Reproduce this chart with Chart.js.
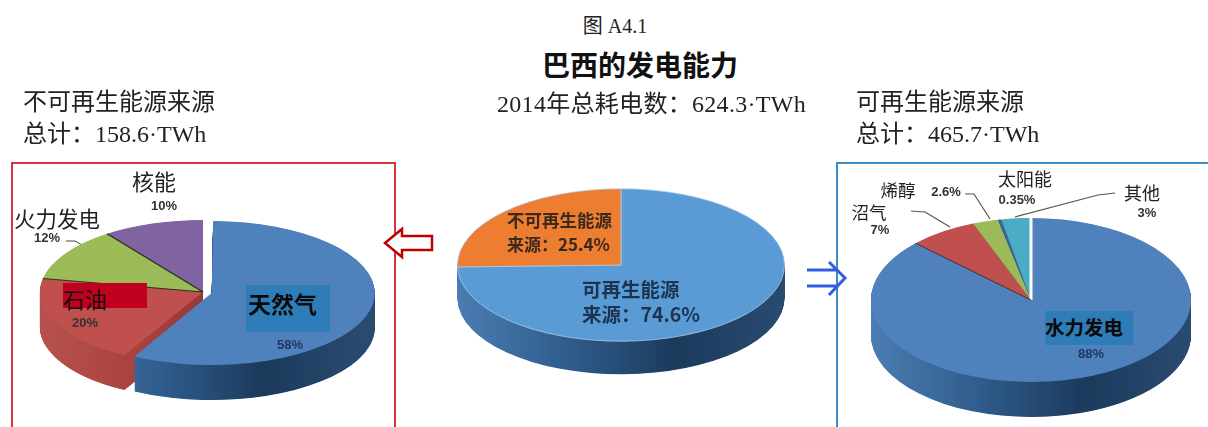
<!DOCTYPE html>
<html lang="zh">
<head>
<meta charset="utf-8">
<title>巴西的发电能力</title>
<script src="https://cdn.jsdelivr.net/npm/chart.js@4"></script>
<style>
    html, body { margin: 0; padding: 0; background: #fff; }
    body { position: relative; width: 1208px; height: 427px; overflow: hidden; font-family: "Liberation Serif", "Noto Sans CJK SC", serif; color: #222; filter: blur(0.4px); }
    canvas { position: absolute; }
    svg { position: absolute; left: 0; top: 0; }
    .t { position: absolute; white-space: nowrap; line-height: 1; transform: translate(-50%, -50%); }
    .l { position: absolute; white-space: nowrap; line-height: 1; transform: translateY(-50%); }
    .s { font-family: "Noto Sans CJK SC", sans-serif; }
    .pct { font-family: "Liberation Sans", "Noto Sans", sans-serif; font-weight: bold; font-size: 13px; color: #333; }
    .box { position: absolute; }
</style>
</head>
<body>
<svg width="1208" height="427">
    <path d="M12 427V163H395V427" fill="none" stroke="#d8343c" stroke-width="2"/>
    <path d="M837 427V163H1208" fill="none" stroke="#3a8cc4" stroke-width="2"/>
    <path d="M385 243L402 229V236H432V250H402V257Z" fill="#fff" stroke="#c00000" stroke-width="2.5"/>
    <path d="M807 270H836M807 286H836M829 262L845 278L829 295" fill="none" stroke="#2f5fe0" stroke-width="3"/>
    <path d="M66 241L75 241L82 245" fill="none" stroke="#444" stroke-width="1"/>
    <path d="M911 211L925 212L950 227" fill="none" stroke="#555" stroke-width="1.2"/>
    <path d="M965 194L974 194L990 219" fill="none" stroke="#555" stroke-width="1.2"/>
    <path d="M1115 193L1098 195L1015 217" fill="none" stroke="#555" stroke-width="1.2"/>
</svg>

<canvas id="pieFossil" width="362" height="362" style="left:22px;top:111px"></canvas>
<canvas id="pieTotal" width="328" height="328" style="left:457px;top:101px"></canvas>
<canvas id="pieRenew" width="320" height="320" style="left:871px;top:140px"></canvas>

<div class="t" style="left:615px;top:26px;font-size:20px">图 A4.1</div>
<div class="t s" style="left:640px;top:64px;font-size:28px;font-weight:bold;color:#111">巴西的发电能力</div>
<div class="l" style="left:23px;top:102px;font-size:24px">不可再生能源来源</div>
<div class="l" style="left:23px;top:134px;font-size:24px">总计&#xFF1A;158.6·TWh</div>
<div class="l" style="left:497px;top:104px;font-size:24px;letter-spacing:.3px">2014年总耗电数&#xFF1A;624.3·TWh</div>
<div class="l" style="left:856px;top:102px;font-size:24px">可再生能源来源</div>
<div class="l" style="left:856px;top:134px;font-size:24px">总计&#xFF1A;465.7·TWh</div>

<div class="t s" style="left:154px;top:180px;font-size:22px">核能</div>
<div class="t pct" style="left:164px;top:205px">10%</div>
<div class="t s" style="left:57px;top:218px;font-size:21.5px">火力发电</div>
<div class="t pct" style="left:47px;top:237px">12%</div>
<div class="box" style="left:63px;top:283px;width:84px;height:25px;background:#c0001f"></div>
<div class="l s" style="left:63px;top:298px;font-size:22px;color:#111">石油</div>
<div class="t pct" style="left:85px;top:322px">20%</div>
<div class="box" style="left:246px;top:285px;width:84px;height:47px;background:#2e7db8"></div>
<div class="l s" style="left:248px;top:303px;font-size:23px;font-weight:bold;color:#0a0a0a">天然气</div>
<div class="t pct" style="left:290px;top:344px;color:#1f3864">58%</div>

<div class="l s" style="left:507px;top:220px;font-size:17.5px;font-weight:bold;color:#3a2a1c">不可再生能源</div>
<div class="l s" style="left:507px;top:243px;font-size:17px;font-weight:bold;color:#3a2a1c">来源&#xFF1A;25.4%</div>
<div class="l s" style="left:582px;top:289px;font-size:19.5px;font-weight:bold;color:#1c3450">可再生能源</div>
<div class="l s" style="left:582px;top:314px;font-size:19.5px;font-weight:bold;color:#1c3450">来源&#xFF1A;74.6%</div>

<div class="box" style="left:1045px;top:311px;width:88px;height:34px;background:#2e7db8"></div>
<div class="l s" style="left:1045px;top:327px;font-size:19.5px;font-weight:bold;color:#0a0a0a">水力发电</div>
<div class="t pct" style="left:1091px;top:353px;color:#1f3864">88%</div>
<div class="t s" style="left:869px;top:212px;font-size:17.5px">沼气</div>
<div class="t pct" style="left:880px;top:229px">7%</div>
<div class="t s" style="left:898px;top:190px;font-size:17.5px">烯醇</div>
<div class="t pct" style="left:946px;top:191px">2.6%</div>
<div class="t s" style="left:1025px;top:178px;font-size:18px">太阳能</div>
<div class="t pct" style="left:1017px;top:199px">0.35%</div>
<div class="t s" style="left:1142px;top:192px;font-size:18px">其他</div>
<div class="t pct" style="left:1147px;top:212px">3%</div>

<script>
const fossilLabels = ['天然气', '石油', '火力发电', '核能'];
const fossilValues = [58, 20, 12, 10];

const totalLabels = ['可再生能源来源', '不可再生能源来源'];
const totalValues = [74.6, 25.4];

const renewLabels = ['水力发电', '沼气', '烯醇', '太阳能', '其他'];
const renewValues = [88, 7, 2.6, 0.35, 3];

// gradient stops for the side wall of each slice
const blueWall = ['#4a7db3', '#2f5d8c', '#1b3a5c', '#2a4b70'];
const redWall = ['#b5504c', '#a5403d', '#8c302e', '#8c302e'];
const plainWall = ['#6a6a6a', '#555', '#444', '#444'];

// squashes the flat pie into an ellipse and stacks copies of the arcs below it as the wall
const tiltPlugin = {
    id: 'tilt',
    afterDatasetUpdate(chart) {
        // arc.draw grows an exploded slice by its offset, take that back
        chart.getDatasetMeta(0).data.forEach(arc => {
            arc.outerRadius -= (arc.options.offset || 0) / 4;
        });
    },
    beforeDatasetDraw(chart, args, opts) {
        const ctx = chart.ctx;
        const arcs = chart.getDatasetMeta(0).data;
        const cx = arcs[0].x, cy = arcs[0].y, r = arcs[0].outerRadius;
        ctx.save();
        ctx.translate(cx, cy);
        ctx.scale(1, opts.squash);
        ctx.translate(-cx, -cy);

        for (let i = arcs.length - 1; i >= 0; i--) {
            const arc = arcs[i];
            const stops = opts.walls[i];
            const g = ctx.createLinearGradient(cx - r, 0, cx + r, 0);
            stops.forEach((c, n) => g.addColorStop(n / (stops.length - 1), c));
            const saved = arc.options;
            arc.options = Object.assign({}, saved, { backgroundColor: g, borderWidth: 0 });
            for (let d = opts.depth; d > 0; d -= 0.5) {
                ctx.save();
                ctx.translate(0, d / opts.squash);
                arc.draw(ctx);
                ctx.restore();
            }
            arc.options = saved;
        }
    },
    afterDatasetDraw(chart, args, opts) {
        const ctx = chart.ctx;
        const arcs = chart.getDatasetMeta(0).data;
        // the thin edges between slices
        (opts.dividers || []).forEach(dv => {
            const arc = arcs[dv.index];
            ctx.beginPath();
            ctx.moveTo(arc.x, arc.y);
            ctx.lineTo(arc.x + Math.cos(arc.startAngle) * arc.outerRadius, arc.y + Math.sin(arc.startAngle) * arc.outerRadius);
            ctx.strokeStyle = dv.color;
            ctx.lineWidth = dv.width;
            ctx.stroke();
        });
        ctx.restore();
    }
};

function makePie(id, labels, values, colors, offsets, tilt, borderColor) {
    return new Chart(document.getElementById(id), {
        type: 'pie',
        data: {
            labels: labels,
            datasets: [{
                data: values,
                backgroundColor: colors,
                borderWidth: borderColor ? 1 : 0,
                borderColor: borderColor || 'transparent',
                offset: offsets,
                clip: false
            }]
        },
        options: {
            responsive: false,
            animation: false,
            events: [],
            plugins: {
                legend: { display: false },
                tooltip: { enabled: false },
                tilt: tilt
            }
        },
        plugins: [tiltPlugin]
    });
}

makePie('pieFossil', fossilLabels, fossilValues,
    ['#4f81bd', '#c0504d', '#9bbb59', '#8064a2'], [36, 0, 0, 0],
    {
        squash: 72 / 163, depth: 35, walls: [blueWall, redWall, plainWall, plainWall],
        dividers: [{ index: 2, color: '#2e3320', width: 2 }, { index: 3, color: '#2e3320', width: 2 }]
    });

makePie('pieTotal', totalLabels, totalValues,
    ['#5b9bd5', '#ed7d31'], [0, 0],
    { squash: 76 / 163, depth: 33, walls: [blueWall, blueWall] },
    '#b4d2ec');

makePie('pieRenew', renewLabels, renewValues,
    ['#4f81bd', '#c0504d', '#9bbb59', '#4060a0', '#4bacc6'], [0, 0, 0, 0, 0],
    {
        squash: 82 / 160, depth: 35, walls: [blueWall, redWall, plainWall, plainWall, plainWall],
        dividers: [{ index: 0, color: '#ffffff', width: 3 }, { index: 1, color: '#4a3030', width: 1.5 }]
    });
</script>
</body>
</html>
